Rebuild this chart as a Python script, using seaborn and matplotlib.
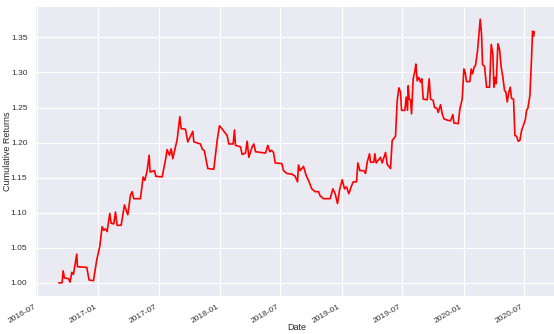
import pandas as pd
from matplotlib import pyplot as plt
import matplotlib.dates as mdates
import seaborn as sns

# Cumulative returns (date, value)
dates = [
    '2016-09-04', '2016-09-14', '2016-09-17', '2016-09-21', '2016-10-03', '2016-10-08',
    '2016-10-13', '2016-10-18', '2016-10-28', '2016-10-30', '2016-11-27', '2016-12-04',
    '2016-12-17', '2016-12-27', '2017-01-05', '2017-01-12', '2017-01-17', '2017-01-22',
    '2017-01-27', '2017-02-04', '2017-02-08', '2017-02-16', '2017-02-21', '2017-02-26',
    '2017-03-10', '2017-03-20', '2017-03-30', '2017-04-07', '2017-04-12', '2017-04-17',
    '2017-05-07', '2017-05-15', '2017-05-20', '2017-05-27', '2017-06-02', '2017-06-05',
    '2017-06-18', '2017-06-22', '2017-07-11', '2017-07-21', '2017-07-26', '2017-08-02',
    '2017-08-07', '2017-08-12', '2017-08-18', '2017-08-25', '2017-09-02', '2017-09-06',
    '2017-09-19', '2017-09-26', '2017-10-11', '2017-10-14', '2017-11-03', '2017-11-08',
    '2017-11-15', '2017-11-20', '2017-11-25', '2017-12-13', '2017-12-23', '2017-12-30',
    '2018-01-06', '2018-01-14', '2018-01-22', '2018-01-27', '2018-02-09', '2018-02-13',
    '2018-02-16', '2018-03-03', '2018-03-08', '2018-03-18', '2018-03-23', '2018-03-28',
    '2018-04-07', '2018-04-12', '2018-04-17', '2018-05-17', '2018-05-24', '2018-05-30',
    '2018-06-04', '2018-06-10', '2018-06-15', '2018-07-05', '2018-07-10', '2018-07-20',
    '2018-08-04', '2018-08-14', '2018-08-21', '2018-08-24', '2018-08-29', '2018-09-08',
    '2018-09-16', '2018-09-23', '2018-10-03', '2018-10-13', '2018-10-23', '2018-10-28',
    '2018-11-07', '2018-11-27', '2018-12-05', '2018-12-12', '2018-12-19', '2018-12-25',
    '2019-01-02', '2019-01-09', '2019-01-15', '2019-01-22', '2019-01-29', '2019-02-04',
    '2019-02-14', '2019-02-18', '2019-02-24', '2019-03-08', '2019-03-13', '2019-03-18',
    '2019-03-25', '2019-03-28', '2019-04-07', '2019-04-10', '2019-04-14', '2019-04-27',
    '2019-05-02', '2019-05-12', '2019-05-17', '2019-05-27', '2019-06-01', '2019-06-06',
    '2019-06-11', '2019-06-16', '2019-06-21', '2019-06-26', '2019-06-29', '2019-07-09',
    '2019-07-13', '2019-07-17', '2019-07-19', '2019-07-22', '2019-07-26', '2019-07-29',
    '2019-08-03', '2019-08-08', '2019-08-11', '2019-08-15', '2019-08-20', '2019-08-25',
    '2019-08-29', '2019-09-02', '2019-09-14', '2019-09-20', '2019-09-24', '2019-10-02',
    '2019-10-06', '2019-10-13', '2019-10-17', '2019-10-24', '2019-10-29', '2019-11-03',
    '2019-11-13', '2019-11-23', '2019-11-30', '2019-12-03', '2019-12-16', '2019-12-21',
    '2019-12-28', '2020-01-02', '2020-01-06', '2020-01-10', '2020-01-20', '2020-01-24',
    '2020-01-28', '2020-02-02', '2020-02-06', '2020-02-12', '2020-02-20', '2020-02-24',
    '2020-02-27', '2020-03-04', '2020-03-10', '2020-03-19', '2020-03-24', '2020-03-29',
    '2020-04-01', '2020-04-05', '2020-04-08', '2020-04-13', '2020-04-18', '2020-04-23',
    '2020-04-28', '2020-05-03', '2020-05-07', '2020-05-11', '2020-05-16', '2020-05-20',
    '2020-05-24', '2020-05-30', '2020-06-03', '2020-06-08', '2020-06-13', '2020-06-18',
    '2020-06-23', '2020-06-28', '2020-07-04', '2020-07-08', '2020-07-12', '2020-07-18',
    '2020-07-23', '2020-07-26', '2020-07-29', '2020-07-31',
]
returns = [
    1.000, 1.000, 1.017, 1.007, 1.006, 1.001,
    1.015, 1.012, 1.041, 1.023, 1.022, 1.004,
    1.003, 1.033, 1.052, 1.080, 1.075, 1.077,
    1.073, 1.099, 1.085, 1.084, 1.101, 1.082,
    1.082, 1.111, 1.097, 1.125, 1.130, 1.120,
    1.120, 1.151, 1.146, 1.160, 1.182, 1.158,
    1.160, 1.152, 1.151, 1.175, 1.190, 1.182,
    1.191, 1.177, 1.190, 1.204, 1.237, 1.220,
    1.219, 1.201, 1.216, 1.201, 1.198, 1.191,
    1.188, 1.175, 1.163, 1.162, 1.203, 1.224,
    1.220, 1.215, 1.210, 1.198, 1.198, 1.218,
    1.196, 1.194, 1.183, 1.185, 1.202, 1.179,
    1.194, 1.198, 1.187, 1.185, 1.196, 1.187,
    1.189, 1.186, 1.171, 1.170, 1.160, 1.156,
    1.155, 1.152, 1.144, 1.168, 1.160, 1.166,
    1.153, 1.146, 1.134, 1.130, 1.130, 1.124,
    1.120, 1.120, 1.134, 1.127, 1.113, 1.132,
    1.147, 1.134, 1.137, 1.127, 1.137, 1.144,
    1.144, 1.171, 1.160, 1.160, 1.156, 1.172,
    1.184, 1.172, 1.172, 1.184, 1.171, 1.179,
    1.171, 1.186, 1.169, 1.163, 1.203, 1.206,
    1.209, 1.260, 1.278, 1.272, 1.246, 1.246,
    1.265, 1.246, 1.281, 1.262, 1.261, 1.241,
    1.291, 1.302, 1.312, 1.288, 1.293, 1.286,
    1.291, 1.262, 1.261, 1.291, 1.262, 1.260,
    1.250, 1.249, 1.243, 1.254, 1.241, 1.234,
    1.232, 1.231, 1.240, 1.228, 1.227, 1.248,
    1.262, 1.305, 1.300, 1.287, 1.287, 1.305,
    1.298, 1.308, 1.310, 1.331, 1.376, 1.354,
    1.311, 1.309, 1.279, 1.279, 1.340, 1.326,
    1.279, 1.293, 1.284, 1.341, 1.333, 1.307,
    1.293, 1.274, 1.272, 1.258, 1.272, 1.279,
    1.263, 1.262, 1.210, 1.209, 1.202, 1.203,
    1.217, 1.224, 1.232, 1.246, 1.249, 1.267,
    1.321, 1.359, 1.352, 1.358,
]

df = pd.DataFrame({'Date': pd.to_datetime(dates), 'Cumulative Returns': returns})

sns.set_style('darkgrid')
plt.rcParams['font.family'] = ['Liberation Sans', 'DejaVu Sans']

fig = plt.figure(figsize=(5.54, 3.34), dpi=100)
ax = fig.add_axes([35 / 554, 38 / 334, 523 / 554, 290 / 334])
sns.lineplot(data=df, x='Date', y='Cumulative Returns', color='red', linewidth=1.2, ax=ax)

ax.xaxis.set_major_locator(mdates.MonthLocator(bymonth=[1, 7]))
ax.xaxis.set_major_formatter(mdates.DateFormatter('%Y-%m'))
ax.margins(x=0.05, y=0.05)
ax.set_yticks([1.00, 1.05, 1.10, 1.15, 1.20, 1.25, 1.30, 1.35])
ax.tick_params(axis='both', labelsize=6, colors='#333333', pad=2)
for lbl in ax.get_xticklabels():
    lbl.set_rotation(30)
    lbl.set_ha('right')
ax.set_xlabel('Date', fontsize=6.5)
ax.set_ylabel('Cumulative Returns', fontsize=6.5)
ax.xaxis.set_label_coords(0.5, -27 / 290)
ax.yaxis.set_label_coords(-23 / 523, 0.5)

plt.savefig('out.png', dpi=100)
